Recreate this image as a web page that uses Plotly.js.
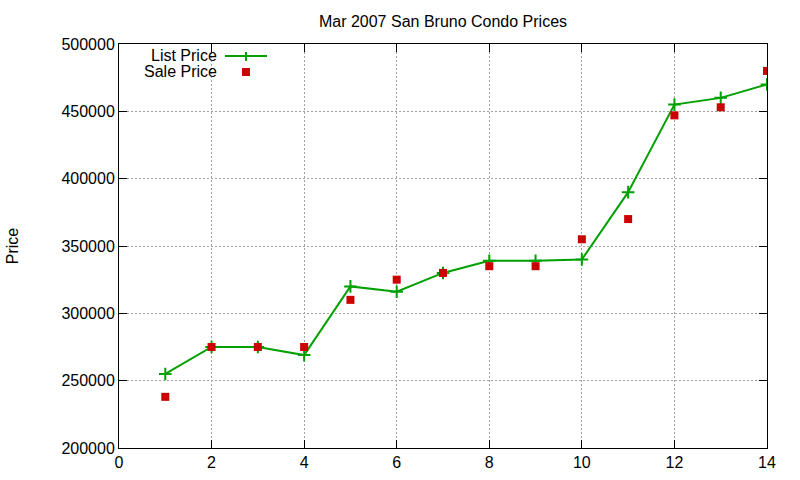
<!DOCTYPE html>
<html><head><meta charset="utf-8">
<script src="https://cdn.plot.ly/plotly-3.0.1.min.js"></script>
<style>html,body{margin:0;padding:0;background:#fff}#c{width:800px;height:480px}</style>
</head><body><div id="c"></div>
<script>
const xs = [1,2,3,4,5,6,7,8,9,10,11,12,13,14];
const listPrice = [255000,275000,275000,269000,320000,316000,330000,339000,339000,340000,390000,455000,460000,470000];
const salePrice = [238000,275000,275000,275000,310000,325000,330000,335000,335000,355000,370000,447000,453000,480000];
const seriesNames = ['List Price','Sale Price'];
const xTicks = [0,2,4,6,8,10,12,14];
const yTicks = [200000,250000,300000,350000,400000,450000,500000];

const F = 'Liberation Sans, Arial, sans-serif';
const green = '#00a000', red = '#cc0000';
const traces = [
  {x: xs, y: listPrice, name: seriesNames[0], mode: 'lines+markers', type: 'scatter',
   line: {color: green, width: 2},
   marker: {symbol: 'cross-thin', size: 9, color: green, line: {color: green, width: 2}}},
  {x: xs, y: salePrice, name: seriesNames[1], mode: 'markers', type: 'scatter',
   marker: {symbol: 'square', size: 8, color: red}}
];
const ax = {
  showline: true, linecolor: '#000', linewidth: 1, mirror: 'ticks',
  ticks: 'inside', ticklen: 8, tickcolor: '#000', tickwidth: 1,
  showgrid: true, gridcolor: '#a0a0a0', griddash: '2px,2px', gridwidth: 1,
  zeroline: false, tickfont: {family: F, size: 16, color: '#000'}
};
const px = v => (v - 119) / 648, py = v => (448 - v) / 404;
const legFont = {family: F, size: 16, color: '#000'};
const layout = {
  width: 800, height: 480, showlegend: false,
  margin: {l: 119, r: 33, t: 44, b: 32},
  paper_bgcolor: '#fff', plot_bgcolor: '#fff',
  title: {text: 'Mar 2007 San Bruno Condo Prices', font: {family: F, size: 16, color: '#000'}, xref: 'paper', x: 0.5, xanchor: 'center', y: 0.956, yanchor: 'middle'},
  xaxis: Object.assign({}, ax, {range: [0, 14], tickvals: xTicks, ticktext: xTicks.map(String)}),
  yaxis: Object.assign({}, ax, {range: [200000, 500000], tickvals: yTicks, ticktext: yTicks.map(String),
    title: {text: 'Price', font: {family: F, size: 16, color: '#000'}, standoff: 38}}),
  annotations: [
    {xref: 'paper', yref: 'paper', x: px(218), y: py(54.5), text: seriesNames[0], showarrow: false, xanchor: 'right', yanchor: 'middle', font: legFont, height: 16, borderpad: 0, valign: 'middle'},
    {xref: 'paper', yref: 'paper', x: px(218), y: py(71), text: seriesNames[1], showarrow: false, xanchor: 'right', yanchor: 'middle', font: legFont, height: 16, borderpad: 0, valign: 'middle'}
  ],
  shapes: [
    {type: 'line', xref: 'paper', yref: 'paper', x0: px(225), x1: px(267), y0: py(56), y1: py(56), line: {color: green, width: 2}},
    {type: 'line', xref: 'paper', yref: 'paper', x0: px(246), x1: px(246), y0: py(52), y1: py(61), line: {color: green, width: 2}},
    {type: 'rect', xref: 'paper', yref: 'paper', x0: px(242), x1: px(250), y0: py(68), y1: py(76), fillcolor: red, line: {width: 0}}
  ]
};
Plotly.newPlot('c', traces, layout, {staticPlot: true, displayModeBar: false});
</script></body></html>
